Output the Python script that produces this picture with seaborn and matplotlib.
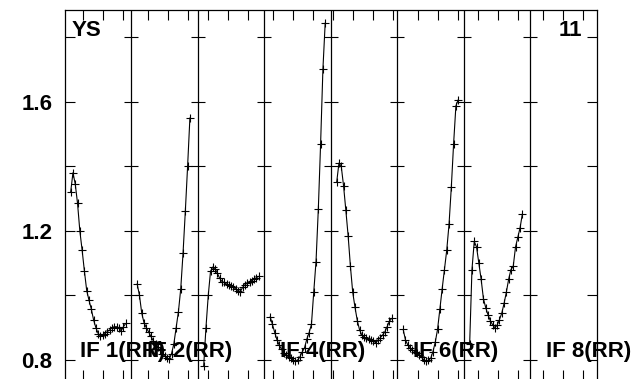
import matplotlib
matplotlib.use('Agg')
import numpy as np
import pandas as pd
import matplotlib.pyplot as plt
import seaborn as sns

# amplitude per channel for each IF, IF 8 is empty
if1 = [1.32, 1.38, 1.345, 1.285, 1.20, 1.14, 1.075, 1.015, 0.985, 0.958, 0.924, 0.90,
       0.882, 0.875, 0.878, 0.882, 0.888, 0.893, 0.900, 0.903, 0.903, 0.900, 0.890,
       0.903, 0.913]
if2 = [1.036, 1.00, 0.945, 0.915, 0.900, 0.887, 0.873, 0.860, 0.848, 0.840, 0.830,
       0.820, 0.812, 0.806, 0.803, 0.82, 0.85, 0.90, 0.95, 1.02, 1.13, 1.26, 1.40, 1.55]
if3 = [0.78, 0.90, 1.00, 1.075, 1.088, 1.083, 1.068, 1.053, 1.043, 1.040, 1.035, 1.032,
       1.029, 1.025, 1.020, 1.015, 1.012, 1.025, 1.033, 1.038, 1.043, 1.046, 1.050,
       1.055, 1.059]
if4 = [0.934, 0.91, 0.885, 0.862, 0.845, 0.833, 0.822, 0.815, 0.81, 0.805, 0.80, 0.796,
       0.80, 0.81, 0.825, 0.838, 0.865, 0.885, 0.91, 1.01, 1.105, 1.267, 1.47, 1.70, 1.844]
if5 = [1.35, 1.41, 1.40, 1.34, 1.264, 1.185, 1.09, 1.01, 0.963, 0.922, 0.893, 0.877,
       0.870, 0.868, 0.866, 0.863, 0.858, 0.854, 0.862, 0.869, 0.877, 0.887, 0.903,
       0.92, 0.929]
if6 = [0.895, 0.862, 0.847, 0.838, 0.831, 0.826, 0.821, 0.815, 0.808, 0.801, 0.797,
       0.799, 0.805, 0.826, 0.855, 0.895, 0.957, 1.02, 1.08, 1.14, 1.22, 1.335, 1.47,
       1.587, 1.606]
if7 = [0.85, 1.08, 1.167, 1.15, 1.10, 1.05, 0.99, 0.962, 0.94, 0.922, 0.909, 0.90,
       0.908, 0.925, 0.945, 0.975, 1.01, 1.05, 1.08, 1.09, 1.15, 1.18, 1.21, 1.253]
if8 = []
spectra = [if1, if2, if3, if4, if5, if6, if7, if8]

label_ifs = [1, 2, 4, 6, 8]
yticks = [0.8, 1.0, 1.2, 1.4, 1.6, 1.8]
yticklabels = ['0.8', '', '1.2', '', '1.6', '']
# first top/bottom tick inside each IF box (channels)
first_tick = [8.1, 7.2, 4.6, 3.7, 1.1, 9.2, 6.4, 5.7]

W = 29.0       # channels per IF box
lead = 2.6     # empty channels before first point
tick_step = 8.72

rows = []
for k, vals in enumerate(spectra):
    for i, v in enumerate(vals):
        rows.append({'IF': k + 1, 'x': k * W + lead + i, 'amp': v})
df = pd.DataFrame(rows)

sns.set_style('white')
plt.rcParams['font.family'] = ['Liberation Sans', 'DejaVu Sans']
plt.rcParams['font.weight'] = 'bold'
plt.rcParams['text.color'] = 'black'
plt.rcParams['xtick.color'] = 'black'
plt.rcParams['ytick.color'] = 'black'

fig = plt.figure(figsize=(6.4, 3.79), dpi=100)
ax = fig.add_axes([64.7 / 640, 1 - 380 / 379, 532 / 640, 370 / 379])

sns.lineplot(data=df, x='x', y='amp', units='IF', estimator=None, sort=False,
             color='black', lw=0.8, marker='+', markersize=6,
             markeredgecolor='black', markeredgewidth=0.8, legend=False, ax=ax)

ax.set_xlim(0, 8 * W)
ax.set_ylim(0.738, 1.884)

# box separators with their own y ticks
half = 7 / (532 / (8 * W))
for k in range(1, 8):
    ax.axvline(k * W, color='black', lw=0.9)
    ax.hlines(yticks, k * W - half, k * W + half, color='black', lw=0.8)

xt = []
for k, t0 in enumerate(first_tick):
    t = t0
    while t < W - 0.3:
        xt.append(k * W + t)
        t += tick_step
ax.set_xticks(xt)
ax.set_yticks(yticks)
ax.set_yticklabels(yticklabels)
ax.tick_params(axis='x', top=True, bottom=True, direction='in', length=7, width=0.8,
               labelbottom=False, color='black')
ax.tick_params(axis='y', left=True, right=True, direction='in', length=7, width=0.8,
               labelsize=16, pad=9, color='black', labelcolor='black')
for s in ax.spines.values():
    s.set_color('black')
    s.set_linewidth(0.9)
ax.set_xlabel('')
ax.set_ylabel('')

ax.text(0.0137, 0.972, 'YS', transform=ax.transAxes, fontsize=16, fontweight='bold',
        va='top', ha='left', color='black')
ax.text(0.9718, 0.972, '11', transform=ax.transAxes, fontsize=16, fontweight='bold',
        va='top', ha='right', color='black')
for n in label_ifs:
    ax.text((n - 1) * W + 6.76, 0.809, f'IF {n}(RR)', fontsize=16, fontweight='bold',
            va='baseline', ha='left', color='black')

fig.savefig('out.png', dpi=100)
